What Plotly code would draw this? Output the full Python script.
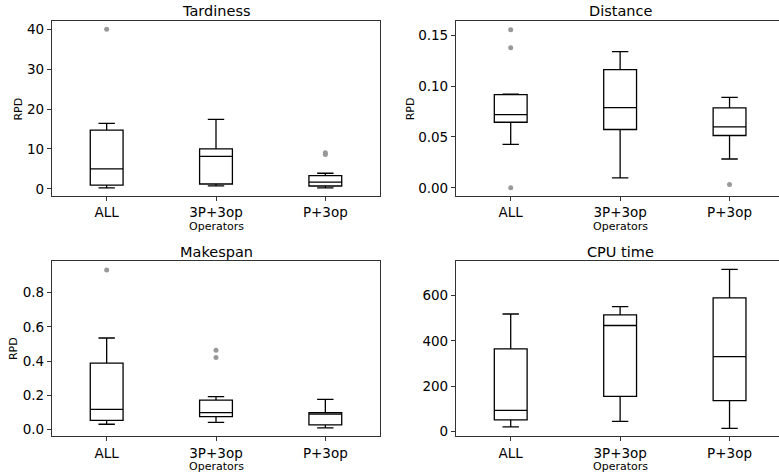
import plotly.graph_objects as go

categories = ["ALL", "3P+3op", "P+3op"]
positions = [1, 2, 3]

# Tardiness
tard_low = [0.25, 0.75, 0.25]
tard_q1 = [0.9, 1.2, 0.7]
tard_med = [5.0, 8.15, 1.65]
tard_q3 = [14.7, 10.0, 3.3]
tard_high = [16.4, 17.4, 3.9]
tard_out_x = [1, 3, 3]
tard_out_y = [40.0, 9.05, 8.6]

# Distance
dist_low = [0.0427, 0.0098, 0.0283]
dist_q1 = [0.0644, 0.0573, 0.0514]
dist_med = [0.0719, 0.0787, 0.0599]
dist_q3 = [0.0915, 0.1161, 0.0785]
dist_high = [0.0921, 0.1337, 0.0889]
dist_out_x = [1, 1, 1, 3]
dist_out_y = [0.1553, 0.1376, 0.0, 0.0033]

# Makespan
mk_low = [0.031, 0.042, 0.0093]
mk_q1 = [0.054, 0.075, 0.027]
mk_med = [0.118, 0.0986, 0.090]
mk_q3 = [0.388, 0.172, 0.0986]
mk_high = [0.535, 0.193, 0.176]
mk_out_x = [1, 2, 2]
mk_out_y = [0.933, 0.464, 0.421]

# CPU time
cpu_low = [19, 44, 13]
cpu_q1 = [50, 154, 136]
cpu_med = [92, 468, 330]
cpu_q3 = [365, 515, 590]
cpu_high = [519, 552, 716]
cpu_out_x = []
cpu_out_y = []

titles = ["Tardiness", "Distance", "Makespan", "CPU time"]
yticks = [
    [0, 10, 20, 30, 40],
    [0.0, 0.05, 0.10, 0.15],
    [0.0, 0.2, 0.4, 0.6, 0.8],
    [0, 200, 400, 600],
]
ytickfmt = ["d", ".2f", ".1f", "d"]
yranges = [[-1.75, 42.1], [-0.0078, 0.164], [-0.039, 0.983], [-22, 752]]

W, H = 779, 476
FONT = "DejaVu Sans"
FRAME = "#333333"

panels = [
    (tard_low, tard_q1, tard_med, tard_q3, tard_high, tard_out_x, tard_out_y),
    (dist_low, dist_q1, dist_med, dist_q3, dist_high, dist_out_x, dist_out_y),
    (mk_low, mk_q1, mk_med, mk_q3, mk_high, mk_out_x, mk_out_y),
    (cpu_low, cpu_q1, cpu_med, cpu_q3, cpu_high, cpu_out_x, cpu_out_y),
]

# pixel geometry
xdom = [[52 / W, 380 / W], [456 / W, 1.0], [52 / W, 380 / W], [456 / W, 1.0]]
ydom = [
    [1 - 197 / H, 1 - 21 / H],
    [1 - 197 / H, 1 - 21 / H],
    [1 - 439 / H, 1 - 263 / H],
    [1 - 439 / H, 1 - 263 / H],
]
xranges = [[0.5, 3.5], [0.5, 3.452], [0.5, 3.5], [0.5, 3.452]]

fig = go.Figure()
annotations = []
layout = {}
for i, (lo, q1, med, q3, hi, ox, oy) in enumerate(panels):
    n = i + 1
    xa = "x" if n == 1 else f"x{n}"
    ya = "y" if n == 1 else f"y{n}"
    fig.add_trace(go.Box(
        x=positions, q1=q1, median=med, q3=q3, lowerfence=lo, upperfence=hi,
        width=0.3, whiskerwidth=0.5, boxpoints=False,
        line=dict(color="black", width=1.3), fillcolor="rgba(0,0,0,0)",
        xaxis=xa, yaxis=ya, showlegend=False, hoverinfo="skip",
    ))
    if ox:
        fig.add_trace(go.Scatter(
            x=ox, y=oy, mode="markers",
            marker=dict(color="#999999", size=5, line=dict(width=0)),
            xaxis=xa, yaxis=ya, showlegend=False, hoverinfo="skip",
        ))
    right = n in (2, 4)
    layout["xaxis" if n == 1 else f"xaxis{n}"] = dict(
        domain=xdom[i], range=xranges[i], anchor=ya,
        tickvals=positions, ticktext=categories,
        showline=True, mirror=True, linecolor=FRAME, linewidth=1.2,
        ticks="outside", ticklen=4, tickcolor=FRAME, tickwidth=1,
        showgrid=False, zeroline=False,
        tickfont=dict(family=FONT, size=13.5, color="black"),
    )
    layout["yaxis" if n == 1 else f"yaxis{n}"] = dict(
        domain=ydom[i], range=yranges[i], anchor=xa,
        tickvals=yticks[i], tickformat=ytickfmt[i],
        showline=True, mirror=(not right), linecolor=FRAME, linewidth=1.2,
        ticks="outside", ticklen=4, tickcolor=FRAME, tickwidth=1,
        showgrid=False, zeroline=False,
        tickfont=dict(family=FONT, size=13.5, color="black"),
    )
    top_px = 21 if n <= 2 else 263
    bot_px = 197 if n <= 2 else 439
    # title
    annotations.append(dict(
        text=titles[i], x=2, xref=xa, y=1 - (top_px - 9.5) / H, yref="paper",
        showarrow=False, xanchor="center", yanchor="middle",
        font=dict(family=FONT, size=14.5, color="black"),
    ))
    # x-axis label
    annotations.append(dict(
        text="Operators", x=2, xref=xa, y=1 - (bot_px + 30.5) / H, yref="paper",
        showarrow=False, xanchor="center", yanchor="middle",
        font=dict(family=FONT, size=11, color="black"),
    ))

# y-axis labels (RPD) where present
rpd_pos = [(18.3, 110), (410, 110), (13.3, 351)]
for px, py in rpd_pos:
    annotations.append(dict(
        text="RPD", x=px / W, xref="paper", y=1 - py / H, yref="paper",
        showarrow=False, xanchor="center", yanchor="middle", textangle=-90,
        font=dict(family=FONT, size=11, color="black"),
    ))

fig.update_layout(
    width=W, height=H,
    margin=dict(l=0, r=0, t=0, b=0),
    paper_bgcolor="white", plot_bgcolor="white",
    annotations=annotations,
    font=dict(family=FONT),
    **layout,
)

fig.write_html("out.html")
